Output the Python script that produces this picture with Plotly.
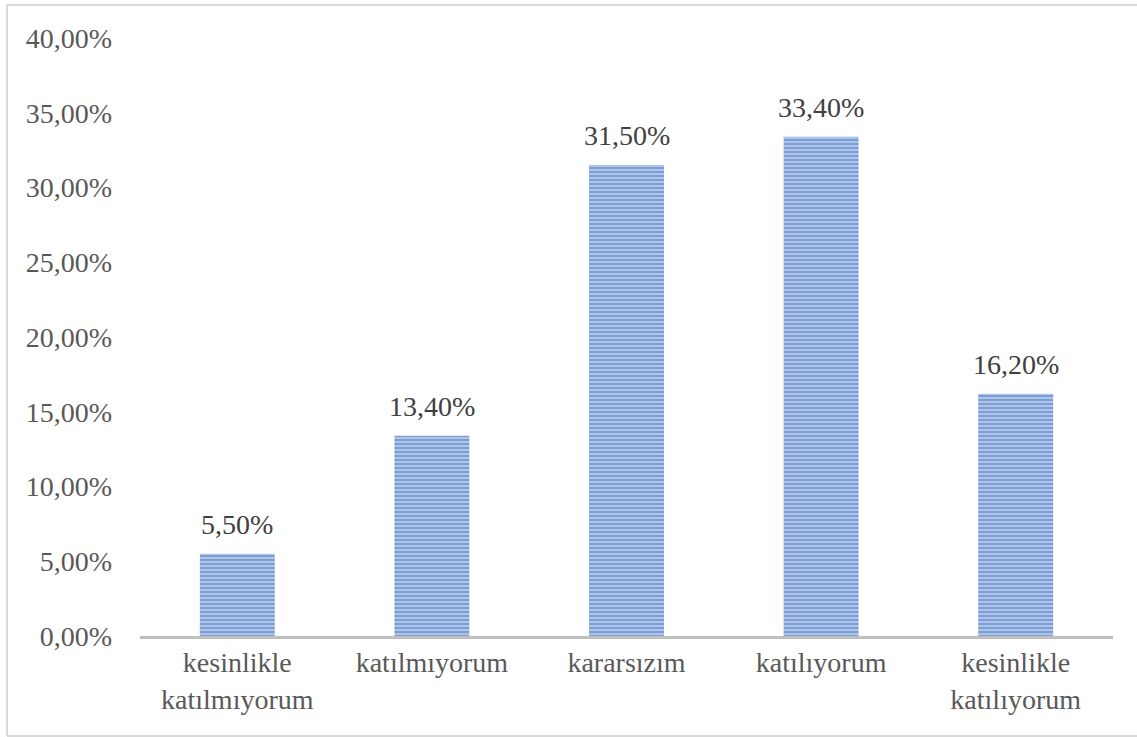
import plotly.graph_objects as go

categories = ["kesinlikle<br>katılmıyorum", "katılmıyorum", "kararsızım", "katılıyorum", "kesinlikle<br>katılıyorum"]
values = [5.5, 13.4, 31.5, 33.4, 16.2]
value_labels = ["5,50%", "13,40%", "31,50%", "33,40%", "16,20%"]
tick_vals = [0, 5, 10, 15, 20, 25, 30, 35, 40]
tick_text = ["0,00%", "5,00%", "10,00%", "15,00%", "20,00%", "25,00%", "30,00%", "35,00%", "40,00%"]

fig = go.Figure()
fig.add_trace(go.Bar(
    x=categories,
    y=values,
    marker=dict(
        color="#a9c0e6",
        line=dict(width=0),
        pattern=dict(shape="-", fgcolor="#4674c0", bgcolor="#b3c8ea", size=4, solidity=0.55),
    ),
))

# value labels sit a little higher than plotly's "outside" text
for cat, val, lab in zip(categories, values, value_labels):
    fig.add_annotation(x=cat, y=val, text=lab, showarrow=False, yanchor="bottom", yshift=12,
                       font=dict(family="Liberation Serif", size=28, color="#404040"))

# chart frame: left, top and bottom edges only (right edge is off the picture)
border = dict(color="#d9d9d9", width=2)
x_left, x_right, y_bot, y_top = -0.1367, 1.2, -0.1672, 1.0552
fig.add_shape(type="line", xref="paper", yref="paper", x0=x_left, x1=x_left, y0=y_bot, y1=y_top, line=border)
fig.add_shape(type="line", xref="paper", yref="paper", x0=x_left, x1=x_right, y0=y_top, y1=y_top, line=border)
fig.add_shape(type="line", xref="paper", yref="paper", x0=x_left, x1=x_right, y0=y_bot, y1=y_bot, line=border)

fig.update_layout(
    width=1137, height=737,
    margin=dict(l=140, r=24, t=38, b=101),
    paper_bgcolor="white", plot_bgcolor="white",
    bargap=0.615,
    showlegend=False,
    font=dict(family="Liberation Serif", size=28, color="#595959"),
)
fig.update_xaxes(showline=True, linecolor="#bfbfbf", linewidth=2.5, ticks="",
                 tickfont=dict(size=28, color="#595959"))
fig.update_yaxes(range=[0, 40], tickvals=tick_vals, ticktext=tick_text,
                 showgrid=False, zeroline=False, showline=False, ticks="",
                 ticklabelstandoff=27, tickfont=dict(size=28, color="#595959"))

# drop the default body margin so the figure fills the window exactly
fig.write_html("out.html", config={"displayModeBar": False},
               post_script="document.body.style.margin='0';document.body.style.overflow='hidden';")
